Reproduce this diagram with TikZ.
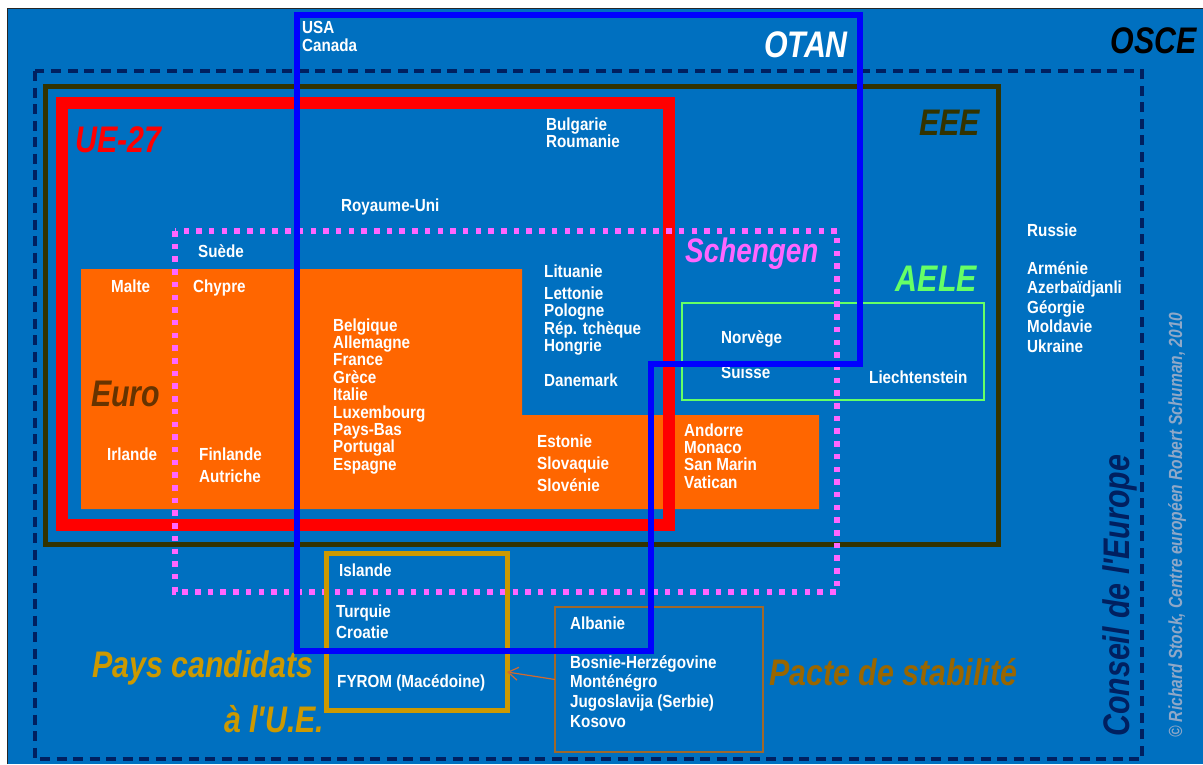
\documentclass[tikz,border=0pt]{standalone}
\usepackage{fontspec}
\setmainfont{Liberation Sans}
\newfontfamily\lblfont[FakeStretch=0.87]{Liberation Sans}
\newfontfamily\ttlfont[FakeStretch=0.82]{Liberation Sans}
\usetikzlibrary{arrows.meta}
\definecolor{bgblue}{HTML}{0070C0}
\definecolor{navyd}{HTML}{002060}
\definecolor{olive}{HTML}{333300}
\definecolor{otanblue}{HTML}{0000FF}
\definecolor{schmag}{HTML}{FF66FF}
\definecolor{aelegreen}{HTML}{66FF66}
\definecolor{euroor}{HTML}{FF6600}
\definecolor{eurobrown}{HTML}{663300}
\definecolor{candgold}{HTML}{CC9900}
\definecolor{pactebrown}{HTML}{996600}
\definecolor{pactebox}{HTML}{A0682A}
\definecolor{arrowor}{HTML}{D2692E}
\definecolor{copyc}{HTML}{8FA8C8}
\newcommand{\lablist}[5]{%
  \foreach \t [count=\i from 0] in {#5}{\node[lbl] (#1\i) at (#2,{#3+\i*#4}) {\t};}}
\begin{document}
\begin{tikzpicture}[x=1pt,y=-1pt,
  lbl/.style={anchor=base west,inner sep=0pt,text=white,
    font={\lblfont\bfseries\fontsize{17.5pt}{18pt}\selectfont}},
  ttl/.style={inner sep=0pt,font={\ttlfont\bfseries\itshape\fontsize{37pt}{40pt}\selectfont}},
  groupbox/.style={draw,inner sep=0pt,outer sep=0pt}]
\useasboundingbox (0,0) rectangle (1203,764);
\fill[white] (0,0) rectangle (1203,764);
\fill[bgblue] (7,8) rectangle (1203,764);
\draw[black!85,line width=1pt] (7,764) -- (7,8) -- (1203,8);
% Euro area
\fill[euroor] (81,269) -- (522,269) -- (522,415) -- (819,415) -- (819,509) -- (81,509) -- cycle;
% Conseil de l'Europe
\draw[navyd,line width=3.5pt,dash pattern=on 10pt off 6.5pt] (35,71) rectangle (1142,759);
% EEE
\draw[olive,line width=5pt] (45,86) rectangle (998,544);
% UE-27
\draw[red,line width=12pt] (62,103) rectangle (669,525);
% AELE
\draw[aelegreen,line width=1.5pt] (682,303) rectangle (984,400);
% Schengen
\draw[schmag,line width=5.5pt,dash pattern=on 5.5pt off 7.2pt] (175,231) rectangle (837,592);
% candidate countries and stability pact
\node[groupbox,candgold,line width=5pt,minimum width=181pt,minimum height=157pt] (cand) at (416.5,631.5) {};
\node[groupbox,pactebox,line width=1.5pt,minimum width=208pt,minimum height=145pt] (pacte) at (659,679.5) {};
\draw[arrowor,line width=1.2pt,-{Straight Barb[length=10pt,width=13pt]}] (pacte.west) -- (cand.east |- 0,672);
% country labels
\lablist{usa}{302}{33}{18}{USA,Canada}
\lablist{bulg}{546}{130}{17}{Bulgarie,Roumanie}
\node[lbl] (ru) at (341,211) {Royaume-Uni};
\node[lbl] (suede) at (198,257) {Suède};
\node[lbl] (malte) at (111,292) {Malte};
\node[lbl] (chypre) at (193,292) {Chypre};
\lablist{belg}{333}{331}{17.4}{Belgique,Allemagne,France,Grèce,Italie,Luxembourg,Pays-Bas,Portugal,Espagne}
\node[lbl] (lituanie) at (544,277) {Lituanie};
\lablist{lett}{544}{299}{17.6}{Lettonie,Pologne,Rép. tchèque,Hongrie}
\node[lbl] (danemark) at (544,386) {Danemark};
\lablist{est}{537}{447}{22}{Estonie,Slovaquie,Slovénie}
\lablist{and}{684}{436}{17.4}{Andorre,Monaco,San Marin,Vatican}
\node[lbl] (irlande) at (107,460) {Irlande};
\lablist{finl}{199}{460}{22}{Finlande,Autriche}
\node[lbl] (norvege) at (721,343) {Norvège};
\node[lbl] (suisse) at (721,378) {Suisse};
\node[lbl] (liecht) at (869,383) {Liechtenstein};
\node[lbl] (russie) at (1027,236) {Russie};
\lablist{arm}{1027}{274}{19.5}{Arménie,Azerbaïdjanli,Géorgie,Moldavie,Ukraine}
\node[lbl] (islande) at (339,576) {Islande};
\lablist{turq}{336}{617}{21}{Turquie,Croatie}
\node[lbl] (fyrom) at (337,687) {FYROM (Macédoine)};
\node[lbl] (albanie) at (570,629) {Albanie};
\lablist{bos}{570}{668}{19.7}{Bosnie-Herzégovine,Monténégro,Jugoslavija (Serbie),Kosovo}
% group titles
\node[ttl,anchor=base east,text=white] (otan) at (848,57) {OTAN};
\node[ttl,anchor=base east,text=black] (osce) at (1197,53) {OSCE};
\node[ttl,anchor=base east,text=olive] (eee) at (980,135) {EEE};
\node[ttl,anchor=base west,text=red] (ue) at (75,152) {UE-27};
\node[ttl,anchor=base west,text=schmag,font={\ttlfont\bfseries\itshape\fontsize{34pt}{40pt}\selectfont}] (schengen) at (685,262) {Schengen};
\node[ttl,anchor=base east,text=aelegreen] (aele) at (977,291) {AELE};
\node[ttl,anchor=base west,text=eurobrown] (euro) at (91,406) {Euro};
\node[ttl,anchor=base west,text=candgold] (paysc) at (92,677) {Pays candidats};
\node[ttl,anchor=base west,text=candgold] (aue) at (224,732) {à l'U.E.};
\node[ttl,anchor=base west,text=pactebrown] (pactet) at (769,685) {Pacte de stabilité};
\node[ttl,anchor=base west,rotate=90,text=navyd] (conseil) at (1129,737) {Conseil de l'Europe};
\node[anchor=base west,rotate=90,inner sep=0pt,text=copyc,font={\ttlfont\bfseries\itshape\fontsize{19pt}{20pt}\selectfont}] (copy) at (1182,738) {© Richard Stock, Centre européen Robert Schuman, 2010};
% OTAN
\draw[otanblue,line width=6pt] (297,15) -- (860,15) -- (860,364) -- (651,364) -- (651,651) -- (297,651) -- cycle;
\end{tikzpicture}
\end{document}
